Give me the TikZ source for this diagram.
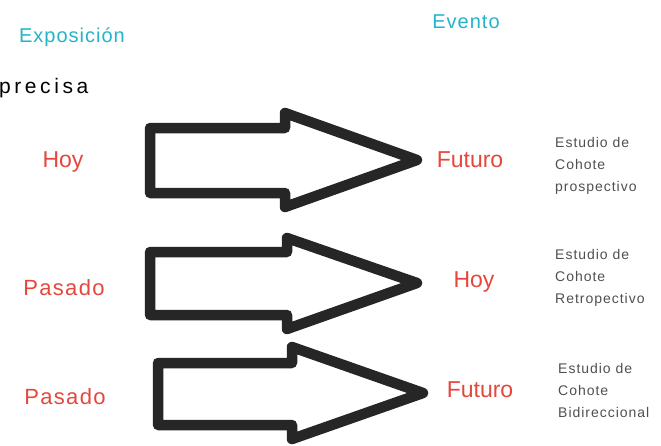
\documentclass[tikz,border=0pt]{standalone}
\usepackage{fontspec}
\setmainfont{Liberation Sans}
\definecolor{cyanT}{HTML}{22B5C9}
\definecolor{redT}{HTML}{E5473D}
\definecolor{grayT}{HTML}{505050}
\definecolor{arrowC}{HTML}{262626}
\tikzset{
  hdr/.style={text=cyanT, font=\fontsize{20}{24}\selectfont\addfontfeature{LetterSpace=5}, inner sep=0pt},
  lbl/.style={text=redT, font=\fontsize{23}{26}\selectfont, inner sep=0pt},
  lbls/.style={text=redT, font=\fontsize{22}{26}\selectfont\addfontfeature{LetterSpace=6}, inner sep=0pt},
  note/.style={text=grayT, font=\fontsize{14}{22}\selectfont\addfontfeature{LetterSpace=7}, inner sep=0pt, anchor=north west, align=left},
  fatarrow/.style={draw=arrowC, line width=10.5pt, line join=round, fill=white},
}
\begin{document}
\begin{tikzpicture}[x=1pt,y=-1pt]
\useasboundingbox (0,0) rectangle (661,445);
\clip (0,0) rectangle (661,445);
\fill[white] (0,0) rectangle (661,445);

\node[hdr] (expo) at (72,37) {Exposición};
\node[hdr] (evento) at (466,22) {Evento};
\node[text=black, font=\fontsize{21}{24}\selectfont\addfontfeature{LetterSpace=17}, inner sep=0pt, anchor=west] (precisa) at (-1,88) {precisa};

% arrows
\draw[fatarrow] (150,128) -- (285,128) -- (285,113) -- (417,160) -- (285,207) -- (285,193) -- (150,193) -- cycle;
\draw[fatarrow] (150,252) -- (287,252) -- (287,238) -- (417,283) -- (287,329) -- (287,315) -- (150,315) -- cycle;
\draw[fatarrow] (158,363) -- (292,363) -- (292,347) -- (423,393) -- (292,439) -- (292,425) -- (158,425) -- cycle;

\node[lbl] (l1) at (63,162) {Hoy};
\node[lbls] (l2) at (64,288) {Pasado};
\node[lbls] (l3) at (65,397) {Pasado};

\node[lbl] (r1) at (470,160) {Futuro};
\node[lbl] (r2) at (474,282) {Hoy};
\node[lbl] (r3) at (480,390) {Futuro};

\node[note] (n1) at (555,137) {Estudio de\\Cohote\\prospectivo};
\node[note] (n2) at (555,249) {Estudio de\\Cohote\\Retropectivo};
\node[note] (n3) at (558,363) {Estudio de\\Cohote\\Bidireccional};
\end{tikzpicture}
\end{document}
